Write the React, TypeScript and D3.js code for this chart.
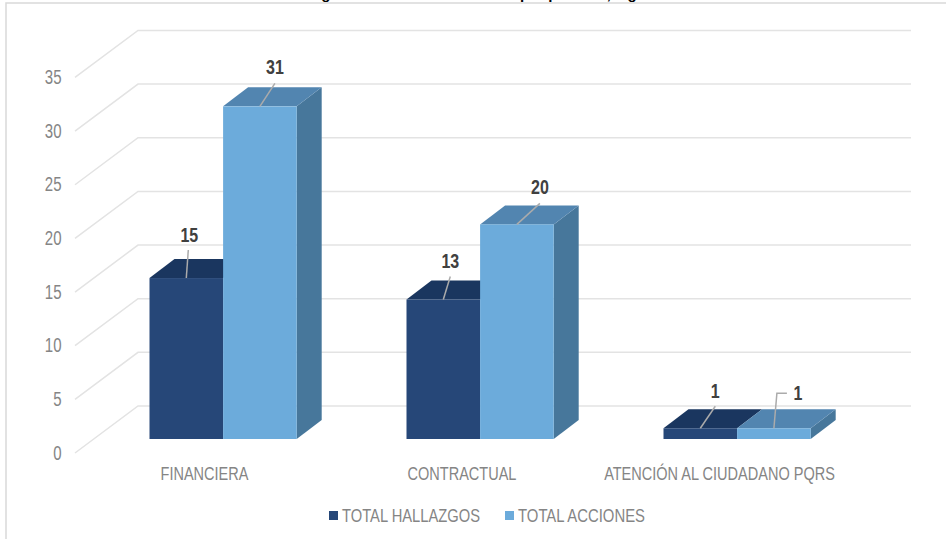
import React from "react";
import * as d3 from "d3";

const categories = ["FINANCIERA", "CONTRACTUAL", "ATENCIÓN AL CIUDADANO PQRS"];
const hallazgos = [15, 13, 1];
const acciones = [31, 20, 1];
const yTicks = [0, 5, 10, 15, 20, 25, 30, 35];
const seriesNames = ["TOTAL HALLAZGOS", "TOTAL ACCIONES"];

const W = 946, H = 539;
const font = "'Liberation Sans', Arial, sans-serif";
const DX = 25, DY = -19;
const wallDX = 63, wallDY = -47;

const y = d3.scaleLinear().domain([0, 35]).range([439, 439 - 35 * 10.73]);
const xCat = d3.scaleBand().domain(categories).range([149.5 - 42, 149.5 - 42 + 3 * 257]).padding(0);
const barW = 73.6;

const dark = { front: "#264778", top: "#1A365F", side: "#1F3C66" };
const light = { front: "#6CABDB", top: "#5285B0", side: "#47779B" };

function poly(pts: [number, number][]) {
  return d3.line()(pts)! + "Z";
}

function Bar({ x, v, c, side }: { x: number; v: number; c: typeof dark; side: boolean }) {
  const yt = y(v), yb = y(0), r = x + barW;
  return (
    <g>
      {side && <path d={poly([[r, yb], [r + DX, yb + DY], [r + DX, yt + DY], [r, yt]])} fill={c.side} />}
      <path d={poly([[x, yt], [x + DX, yt + DY], [r + DX, yt + DY], [r, yt]])} fill={c.top} />
      <rect x={x} y={yt} width={barW} height={yb - yt} fill={c.front} />
    </g>
  );
}

const at = (x: number, yy: number, sx: number) => `translate(${x},${yy}) scale(${sx},1)`;

const leaders = [
  { cat: 0, s: 0, path: [[0, 0], [2, -28]], lx: 3, ly: -36 },
  { cat: 0, s: 1, path: [[0, 0], [15, -23]], lx: 15, ly: -32 },
  { cat: 1, s: 0, path: [[0, 0], [7, -23]], lx: 7, ly: -32 },
  { cat: 1, s: 1, path: [[0, 0], [23, -21]], lx: 23, ly: -30 },
  { cat: 2, s: 0, path: [[0, 0], [15, -22]], lx: 15, ly: -30 },
  { cat: 2, s: 1, path: [[0, 0], [3, -35], [13, -35]], lx: 24, ly: -28 },
] as { cat: number; s: number; path: [number, number][]; lx: number; ly: number }[];

export default function App() {
  const seriesVals = [hallazgos, acciones];
  const colors = [dark, light];
  return (
    <svg width={W} height={H} style={{ position: "absolute", left: 0, top: 0, background: "#fff" }}>
      <text y={-1} fontFamily={font} fontWeight={700} fontSize={15} fill="#000">
        <tspan x={278}>Hallazgos</tspan>
        <tspan x={520}>por proceso, vigencia</tspan>
      </text>
      <path d="M946 3H6V539" fill="none" stroke="#D9D9D9" strokeWidth={1.5} />
      {yTicks.map((t) => {
        const fy = y(t) + 14;
        return (
          <g key={t}>
            <polyline
              points={`75,${fy} ${75 + wallDX},${fy + wallDY} 911,${fy + wallDY}`}
              fill="none"
              stroke="#E3E3E3"
              strokeWidth={1.5}
            />
            <text transform={at(61.5, fy + 6.5, 0.77)} textAnchor="end" fontFamily={font} fontSize={19.5} fill="#858585">
              {t}
            </text>
          </g>
        );
      })}
      {categories.map((cat, i) => {
        const x0 = xCat(cat)! + 42;
        return (
          <g key={cat}>
            <Bar x={x0} v={hallazgos[i]} c={dark} side={false} />
            <Bar x={x0 + barW} v={acciones[i]} c={light} side />
          </g>
        );
      })}
      {leaders.map((l, i) => {
        const v = seriesVals[l.s][l.cat];
        const x0 = xCat(categories[l.cat])! + 42 + l.s * barW + barW / 2;
        const yt = y(v);
        return (
          <g key={i}>
            <polyline
              points={l.path.map(([a, b]) => `${x0 + a},${yt + b}`).join(" ")}
              fill="none"
              stroke="#ABABAB"
              strokeWidth={1.5}
            />
            <text transform={at(x0 + l.lx, yt + l.ly, 0.8)} textAnchor="middle" fontFamily={font} fontWeight={700} fontSize={20} fill="#404040">
              {v}
            </text>
          </g>
        );
      })}
      {categories.map((cat, i) => {
        const cx = [204.5, 462, 719.5][i];
        return (
          <text key={cat} transform={at(cx, 480, 0.785)} textAnchor="middle" fontFamily={font} fontSize={18.5} fill="#858585">
            {cat}
          </text>
        );
      })}
      {seriesNames.map((s, i) => {
        const lx = [329, 505][i];
        return (
          <g key={s}>
            <rect x={lx} y={511} width={9} height={9} fill={colors[i].front} />
            <text x={lx + 13} y={521.5} fontFamily={font} fontSize={18.5} fill="#858585" textLength={[138, 127][i]} lengthAdjust="spacingAndGlyphs">
              {s}
            </text>
          </g>
        );
      })}
    </svg>
  );
}
